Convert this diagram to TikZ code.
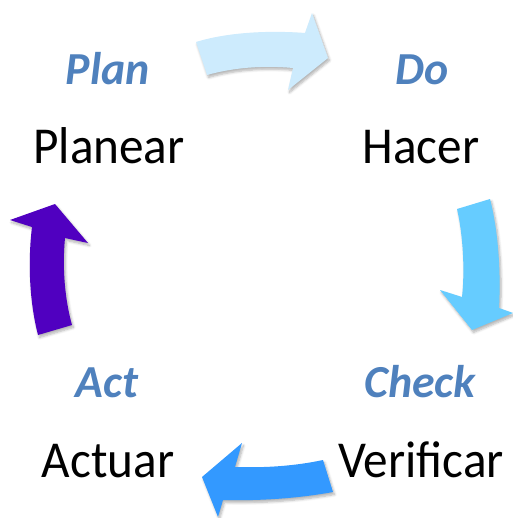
\documentclass[tikz,border=0pt]{standalone}
\usepackage{fontspec}
\setmainfont{Carlito}
\newfontfamily\verbfont[FakeStretch=0.95]{Carlito}
\usetikzlibrary{shadows.blur}
\definecolor{phase}{HTML}{4F81BD}
\definecolor{arrA}{HTML}{CDEBFD}
\definecolor{arrB}{HTML}{66CCFF}
\definecolor{arrC}{HTML}{3399FF}
\definecolor{arrD}{HTML}{5000C0}
\begin{document}
\begin{tikzpicture}[x=1bp,y=-1bp,
  phasetext/.style={anchor=base,inner sep=0pt,text=phase,
    font=\fontsize{46}{50}\selectfont\bfseries\itshape},
  verbtext/.style={anchor=base,inner sep=0pt,text=black,
    font=\verbfont\fontsize{52}{56}\selectfont},
  cyclearrow/.style={draw=none,
    blur shadow={shadow xshift=1.5bp,shadow yshift=-2.5bp,
      shadow opacity=30,shadow blur steps=6,shadow blur radius=2.5bp}}]
\useasboundingbox (0,0) rectangle (513,518);

% Plan -> Do
\fill[arrA,cyclearrow] (196,42) .. controls (225,33) and (265,30) .. (305,33)
  -- (312,13) -- (328,58) -- (288,90) -- (293,68)
  .. controls (262,65) and (232,68) .. (207,75) -- cycle;
% Do -> Check
\fill[arrB,cyclearrow] (457,209) -- (490,199)
  .. controls (498,230) and (501,270) .. (499,308)
  -- (513,313) -- (472,330) -- (440,290) -- (462,297)
  .. controls (465,270) and (463,235) .. (457,209) -- cycle;
% Check -> Act
\fill[arrC,cyclearrow] (323,460) .. controls (295,466) and (265,468) .. (235,467)
  -- (242,443) -- (202,477) -- (218,517) -- (223,500)
  .. controls (262,501) and (300,498) .. (333,492) -- cycle;
% Act -> Plan
\fill[arrD,cyclearrow] (38,335) .. controls (29,300) and (28,260) .. (32,227)
  -- (10,220) -- (55,204) -- (88,243) -- (65,238)
  .. controls (62,268) and (65,300) .. (72,325) -- cycle;

\node[phasetext] (plan)  at (108,85)  {Plan};
\node[verbtext]  (planear) at (109,164) {Planear};
\node[phasetext] (do)    at (422,85)  {Do};
\node[verbtext]  (hacer) at (421,164) {Hacer};
\node[phasetext] (check) at (420,397) {Check};
\node[verbtext]  (verificar) at (421,477) {Verificar};
\node[phasetext] (act)   at (107,397) {Act};
\node[verbtext]  (actuar) at (108,477) {Actuar};
\end{tikzpicture}
\end{document}
